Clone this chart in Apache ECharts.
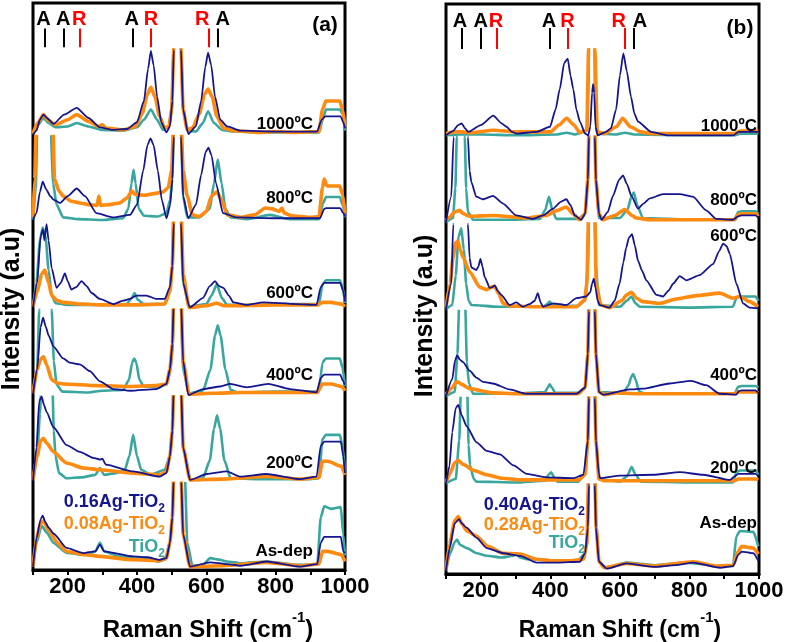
<!DOCTYPE html>
<html><head><meta charset="utf-8">
<script src="https://cdn.jsdelivr.net/npm/echarts@6/dist/echarts.min.js"></script>
<style>html,body{margin:0;padding:0;background:#fff}#c{width:787px;height:642px}</style>
</head><body><div id="c"></div>
<script>
// ---------- DATA ----------
const xTicks = [200, 400, 600, 800, 1000];
const temps = ['1000ºC', '800ºC', '600ºC', '400ºC', '200ºC', 'As-dep'];
const peakTypes = ['A', 'A', 'R', 'A', 'R', 'R', 'A'];
const aPeakX = [133, 190, 236, 389, 440, 606, 633];
const aPeakLabelX = [130, 187, 233, 385, 440, 588, 647];
const bPeakX = [145, 201, 246, 397, 449, 615, 640];
const bPeakLabelX = [140, 200, 244, 396, 449, 597, 658];
const aLegend = ['0.16Ag-TiO', '0.08Ag-TiO', 'TiO'];
const bLegend = ['0.40Ag-TiO', '0.28Ag-TiO', 'TiO'];

// Panel (a)
const aT1000 = [[100,0.01],[115,0.12],[130,0.2],[145,0.14],[165,0.09],[200,0.1],[226,0.14],[260,0.1],[300,0.06],[360,0.05],[400,0.09],[420,0.18],[440,0.3],[458,0.18],[475,0.06],[492,0.1],[500,0.3],[506,1.0],[512,4],[520,4],[527,1.0],[533,0.3],[545,0.05],[570,0.04],[590,0.14],[605,0.28],[622,0.14],[645,0.06],[680,0.04],[750,0.03],[850,0.03],[925,0.03],[937,0.2],[945,0.3],[985,0.3],[993,0.25],[1000,0.05]];
const aO1000 = [[100,0.02],[115,0.15],[130,0.24],[145,0.17],[165,0.12],[200,0.18],[226,0.24],[260,0.16],[290,0.1],[300,0.12],[310,0.08],[360,0.06],[395,0.1],[415,0.25],[430,0.48],[440,0.56],[452,0.45],[465,0.22],[480,0.08],[492,0.1],[500,0.3],[506,1.0],[512,4],[520,4],[527,1.0],[533,0.3],[545,0.06],[560,0.08],[580,0.25],[595,0.48],[605,0.54],[617,0.45],[630,0.22],[650,0.08],[680,0.05],[750,0.03],[800,0.04],[850,0.03],[925,0.04],[935,0.3],[945,0.4],[985,0.4],[993,0.3],[1000,0.1]];
const aB1000 = [[100,0.0],[110,0.05],[120,0.18],[130,0.24],[140,0.2],[159,0.13],[190,0.24],[226,0.32],[260,0.2],[293,0.09],[330,0.06],[371,0.07],[400,0.15],[420,0.4],[432,0.78],[440,0.99],[448,0.82],[458,0.45],[470,0.15],[485,0.03],[495,0.1],[502,0.4],[506,1.0],[512,4],[520,4],[527,1.0],[533,0.3],[548,0.01],[570,0.1],[585,0.4],[597,0.8],[605,0.97],[614,0.82],[625,0.45],[640,0.18],[660,0.1],[700,0.05],[800,0.04],[919,0.04],[933,0.18],[943,0.22],[987,0.22],[995,0.15],[1000,0.08]];

const aT800 = [[100,0.02],[108,0.4],[113,1.2],[120,3],[145,3],[150,1.2],[158,0.45],[168,0.2],[187,0.05],[230,0.03],[300,0.02],[360,0.04],[375,0.15],[384,0.45],[390,0.61],[396,0.45],[405,0.15],[420,0.07],[460,0.06],[485,0.1],[495,0.25],[502,0.5],[506,1.0],[512,4],[520,4],[527,1.0],[533,0.3],[545,0.05],[580,0.05],[610,0.15],[622,0.45],[633,0.73],[644,0.45],[655,0.15],[670,0.05],[720,0.03],[783,0.08],[840,0.03],[925,0.03],[937,0.22],[945,0.29],[985,0.29],[993,0.2],[1000,0.05]];
const aO800 = [[100,0.05],[105,0.5],[110,1.3],[130,3],[150,3],[157,1.2],[162,0.5],[175,0.36],[187,0.3],[210,0.24],[235,0.22],[260,0.2],[285,0.19],[290,0.3],[295,0.19],[320,0.2],[350,0.22],[372,0.28],[385,0.36],[395,0.32],[420,0.31],[450,0.33],[475,0.35],[490,0.4],[500,0.6],[506,1.2],[512,4],[520,4],[527,1.2],[533,0.6],[545,0.3],[560,0.08],[580,0.06],[600,0.12],[615,0.3],[630,0.35],[645,0.25],[660,0.08],[700,0.05],[740,0.08],[770,0.16],[790,0.15],[810,0.12],[818,0.16],[825,0.1],[845,0.07],[900,0.05],[925,0.06],[935,0.4],[940,0.5],[948,0.42],[985,0.42],[993,0.32],[1000,0.1]];
const aB800 = [[100,0.02],[110,0.1],[120,0.35],[128,0.47],[138,0.38],[150,0.3],[159,0.26],[178,0.22],[200,0.3],[226,0.39],[250,0.3],[283,0.1],[332,0.05],[380,0.08],[400,0.2],[418,0.6],[430,0.9],[439,0.98],[448,0.9],[460,0.6],[472,0.25],[485,0.04],[496,0.2],[502,0.5],[506,1.0],[512,4],[520,4],[527,1.0],[533,0.3],[548,0.04],[570,0.2],[585,0.55],[598,0.82],[606,0.87],[615,0.78],[628,0.45],[648,0.1],[687,0.05],[800,0.04],[928,0.04],[940,0.15],[945,0.16],[986,0.16],[995,0.1],[1000,0.06]];

const aT600 = [[100,0.02],[110,0.3],[120,0.8],[128,0.95],[136,0.85],[145,0.45],[154,0.15],[165,0.06],[200,0.04],[300,0.04],[370,0.05],[385,0.12],[393,0.18],[402,0.1],[420,0.05],[480,0.05],[495,0.2],[502,0.5],[506,1.0],[512,4],[520,4],[527,1.0],[533,0.3],[550,0.02],[600,0.05],[615,0.15],[630,0.28],[645,0.12],[660,0.04],[750,0.04],[850,0.05],[925,0.05],[935,0.28],[945,0.33],[985,0.33],[993,0.25],[1000,0.06]];
const aO600 = [[100,0.02],[112,0.2],[125,0.4],[134,0.45],[145,0.3],[154,0.15],[170,0.09],[187,0.07],[240,0.05],[300,0.04],[400,0.04],[480,0.05],[495,0.2],[502,0.5],[506,1.2],[512,4],[520,4],[527,1.2],[533,0.4],[550,0.01],[600,0.03],[630,0.06],[650,0.03],[800,0.04],[920,0.04],[935,0.07],[960,0.07],[990,0.05],[1000,0.02]];
const aB600 = [[100,0.01],[112,0.3],[122,0.85],[129,0.93],[133,0.8],[139,0.99],[145,0.8],[154,0.47],[168,0.24],[180,0.3],[192,0.41],[200,0.32],[211,0.22],[225,0.25],[240,0.32],[255,0.26],[269,0.18],[293,0.11],[332,0.05],[360,0.09],[379,0.11],[398,0.15],[427,0.15],[456,0.11],[480,0.11],[495,0.25],[502,0.5],[506,1.0],[512,4],[520,4],[527,1.0],[533,0.3],[552,0.01],[590,0.12],[610,0.26],[625,0.32],[637,0.26],[649,0.24],[665,0.15],[678,0.07],[716,0.04],[764,0.07],[860,0.05],[918,0.04],[930,0.25],[940,0.3],[986,0.3],[995,0.2],[1000,0.08]];

const aT400 = [[100,0.02],[112,0.3],[118,1.0],[125,2],[148,2],[154,1.0],[160,0.4],[168,0.12],[185,0.04],[260,0.03],[300,0.05],[360,0.06],[377,0.18],[386,0.38],[392,0.43],[398,0.38],[407,0.18],[420,0.1],[460,0.09],[485,0.12],[495,0.25],[502,0.5],[506,1.0],[512,4],[520,4],[527,1.0],[533,0.3],[550,0.02],[590,0.05],[612,0.3],[625,0.7],[633,0.82],[641,0.7],[655,0.3],[670,0.06],[690,0.03],[800,0.04],[925,0.04],[935,0.38],[945,0.43],[985,0.43],[993,0.32],[1000,0.1]];
const aO400 = [[100,0.02],[112,0.3],[122,0.42],[130,0.45],[140,0.35],[154,0.18],[170,0.14],[187,0.13],[283,0.11],[380,0.1],[456,0.11],[485,0.13],[495,0.3],[502,0.6],[506,1.2],[512,4],[520,4],[527,1.2],[533,0.4],[550,0.01],[620,0.02],[700,0.03],[800,0.03],[920,0.03],[935,0.13],[960,0.13],[990,0.1],[1000,0.05]];
const aB400 = [[100,0.01],[112,0.3],[122,0.8],[129,0.91],[137,0.8],[145,0.7],[159,0.57],[187,0.43],[206,0.38],[235,0.36],[264,0.28],[293,0.16],[332,0.07],[380,0.05],[456,0.07],[485,0.13],[495,0.3],[502,0.6],[506,1.1],[512,4],[520,4],[527,1.1],[533,0.4],[548,0.0],[591,0.07],[640,0.1],[669,0.13],[716,0.09],[779,0.13],[841,0.07],[918,0.03],[930,0.2],[940,0.24],[986,0.24],[995,0.16],[1000,0.12]];

const aT200 = [[100,0.02],[112,0.3],[120,0.8],[126,1.3],[155,1.3],[160,0.6],[165,0.3],[175,0.1],[197,0.04],[240,0.05],[280,0.08],[293,0.16],[305,0.08],[340,0.1],[365,0.14],[378,0.3],[389,0.55],[400,0.3],[412,0.14],[440,0.08],[480,0.14],[495,0.3],[502,0.6],[506,1.1],[512,4],[520,4],[527,1.1],[533,0.4],[555,0.02],[590,0.04],[610,0.25],[622,0.62],[631,0.78],[640,0.62],[652,0.25],[670,0.04],[750,0.03],[900,0.03],[925,0.04],[935,0.5],[945,0.55],[985,0.55],[993,0.42],[1000,0.12]];
const aO200 = [[100,0.02],[112,0.3],[122,0.48],[130,0.51],[140,0.45],[159,0.35],[197,0.22],[245,0.16],[293,0.14],[389,0.1],[466,0.08],[485,0.12],[495,0.3],[502,0.6],[506,1.2],[512,4],[520,4],[527,1.2],[533,0.4],[553,0.02],[650,0.03],[774,0.06],[870,0.03],[925,0.05],[935,0.24],[950,0.24],[990,0.18],[1000,0.08]];
const aB200 = [[100,0.01],[110,0.4],[118,0.95],[125,1.0],[132,0.9],[139,0.82],[159,0.64],[197,0.43],[235,0.35],[274,0.28],[293,0.26],[300,0.27],[310,0.2],[389,0.12],[466,0.06],[485,0.1],[495,0.3],[502,0.6],[506,1.1],[512,4],[520,4],[527,1.1],[533,0.4],[553,0.02],[601,0.09],[659,0.12],[697,0.06],[774,0.09],[870,0.03],[918,0.06],[930,0.42],[940,0.47],[988,0.47],[995,0.3],[1000,0.1]];

const aTAs = [[100,0.02],[110,0.3],[125,0.5],[140,0.42],[159,0.3],[197,0.18],[250,0.16],[280,0.2],[293,0.3],[305,0.2],[350,0.14],[430,0.12],[460,0.08],[480,0.1],[495,0.3],[502,0.6],[506,1.1],[512,4],[520,4],[532,4],[538,1.1],[545,0.3],[560,0.03],[590,0.04],[611,0.12],[640,0.1],[659,0.08],[700,0.06],[774,0.08],[870,0.04],[920,0.05],[930,0.6],[940,0.73],[960,0.7],[988,0.72],[995,0.4],[1000,0.15]];
const aOAs = [[100,0.02],[110,0.35],[122,0.53],[130,0.56],[145,0.45],[170,0.3],[197,0.2],[250,0.16],[293,0.14],[389,0.1],[466,0.09],[485,0.12],[495,0.3],[502,0.6],[506,1.1],[512,4],[520,4],[527,1.1],[533,0.4],[553,0.02],[650,0.03],[774,0.07],[870,0.03],[925,0.05],[935,0.2],[950,0.2],[990,0.16],[1000,0.08]];
const aBAs = [[100,0.02],[110,0.35],[122,0.58],[128,0.62],[136,0.54],[145,0.48],[159,0.41],[197,0.24],[245,0.18],[280,0.2],[293,0.28],[305,0.2],[389,0.14],[430,0.13],[466,0.1],[485,0.12],[495,0.3],[502,0.6],[506,1.1],[512,4],[520,4],[527,1.1],[533,0.4],[553,0.02],[611,0.07],[659,0.05],[700,0.03],[774,0.08],[870,0.02],[920,0.05],[930,0.3],[940,0.37],[988,0.37],[995,0.2],[1000,0.18]];

// Panel (b)
const bT1000 = [[100,0.0],[140,0.01],[200,0.01],[300,0.0],[420,0.01],[447,0.03],[470,0.01],[505,0.05],[510,0.6],[513,4],[525,4],[528,0.6],[535,0.02],[590,0.01],[615,0.03],[640,0.01],[800,0.0],[930,0.0],[945,0.02],[998,0.02]];
const bO1000 = [[100,0.02],[125,0.04],[145,0.04],[170,0.03],[236,0.06],[300,0.04],[400,0.04],[425,0.12],[447,0.2],[468,0.12],[485,0.03],[505,0.06],[510,1.0],[513,4],[525,4],[528,1.0],[535,0.04],[555,0.02],[590,0.1],[608,0.2],[630,0.1],[660,0.04],[690,0.02],[800,0.02],[930,0.02],[945,0.05],[998,0.05]];
const bB1000 = [[100,0.0],[120,0.05],[135,0.12],[145,0.14],[155,0.08],[164,0.04],[200,0.12],[236,0.23],[260,0.14],[274,0.1],[290,0.04],[303,0.02],[360,0.04],[399,0.1],[415,0.3],[427,0.54],[440,0.85],[450,0.9],[458,0.7],[466,0.54],[475,0.3],[485,0.16],[500,0.02],[509,0.0],[515,0.1],[520,0.5],[523,0.6],[526,0.5],[530,0.1],[536,0.0],[560,0.04],[574,0.08],[589,0.3],[600,0.7],[610,0.96],[620,0.75],[632,0.45],[642,0.25],[652,0.16],[690,0.04],[738,0.0],[926,0.0],[941,0.04],[998,0.04]];

const bT800 = [[100,0.0],[120,0.05],[127,0.4],[131,1.0],[135,2],[150,2],[154,1.0],[158,0.4],[163,0.12],[178,0.03],[300,0.03],[370,0.04],[385,0.14],[396,0.3],[406,0.14],[417,0.04],[480,0.04],[500,0.1],[508,0.5],[511,1.0],[514,4],[525,4],[528,1.0],[531,0.5],[540,0.05],[600,0.05],[622,0.15],[633,0.3],[640,0.35],[650,0.2],[666,0.05],[800,0.03],[930,0.03],[940,0.12],[950,0.13],[990,0.13],[998,0.1]];
const bO800 = [[100,0.02],[110,0.06],[125,0.12],[139,0.14],[150,0.1],[168,0.07],[235,0.08],[331,0.05],[388,0.08],[420,0.14],[446,0.18],[465,0.1],[484,0.03],[500,0.1],[508,0.5],[511,1.1],[514,4],[525,4],[528,1.1],[531,0.5],[540,0.1],[551,0.03],[585,0.08],[614,0.15],[635,0.08],[647,0.05],[686,0.03],[800,0.03],[930,0.03],[940,0.09],[950,0.1],[990,0.1],[998,0.07]];
const bB800 = [[100,0.0],[115,0.3],[122,1.0],[128,3],[158,3],[163,1.0],[168,0.6],[173,0.47],[187,0.3],[206,0.27],[235,0.31],[264,0.22],[302,0.08],[350,0.04],[379,0.08],[408,0.16],[430,0.24],[446,0.27],[458,0.2],[470,0.08],[489,0.03],[500,0.1],[508,0.5],[511,1.0],[514,4],[525,4],[528,1.0],[531,0.5],[540,0.1],[547,0.03],[565,0.12],[580,0.31],[598,0.5],[609,0.55],[620,0.45],[633,0.31],[652,0.16],[668,0.22],[686,0.28],[724,0.33],[772,0.33],[810,0.3],[848,0.14],[877,0.04],[925,0.03],[940,0.07],[950,0.08],[990,0.08],[998,0.05]];

const bT600 = [[100,0.0],[118,0.05],[128,0.4],[136,0.85],[144,0.95],[151,0.7],[158,0.3],[165,0.1],[173,0.05],[250,0.03],[380,0.03],[390,0.06],[398,0.09],[406,0.05],[480,0.04],[500,0.1],[508,0.5],[511,1.0],[514,4],[525,4],[528,1.0],[531,0.5],[540,0.05],[600,0.03],[620,0.1],[633,0.15],[645,0.07],[657,0.03],[800,0.02],[925,0.03],[935,0.13],[945,0.15],[990,0.15],[998,0.1]];
const bO600 = [[100,0.02],[112,0.3],[120,0.6],[128,0.78],[134,0.8],[141,0.7],[149,0.61],[168,0.44],[197,0.26],[216,0.23],[230,0.26],[240,0.27],[252,0.18],[264,0.07],[283,0.04],[350,0.03],[475,0.03],[499,0.11],[505,0.3],[510,1.1],[514,4],[525,4],[528,1.1],[532,0.3],[545,0.05],[570,0.02],[605,0.1],[620,0.17],[633,0.2],[648,0.13],[666,0.09],[714,0.07],[762,0.12],[820,0.16],[887,0.19],[925,0.13],[944,0.15],[973,0.09],[997,0.03]];
const bB600 = [[100,0.0],[115,0.3],[121,1.0],[125,3],[158,3],[163,1.0],[168,0.6],[173,0.49],[187,0.46],[193,0.5],[199,0.59],[205,0.5],[211,0.38],[226,0.25],[233,0.26],[240,0.28],[248,0.22],[259,0.17],[283,0.05],[302,0.08],[321,0.03],[340,0.06],[355,0.1],[364,0.19],[372,0.08],[379,0.03],[408,0.07],[446,0.05],[475,0.13],[503,0.15],[515,0.2],[520,0.3],[525,0.36],[530,0.25],[536,0.1],[542,0.05],[570,0.02],[585,0.1],[599,0.3],[610,0.55],[618,0.72],[626,0.84],[635,0.88],[643,0.75],[652,0.57],[664,0.45],[676,0.34],[705,0.17],[724,0.15],[740,0.22],[753,0.3],[772,0.39],[791,0.34],[829,0.4],[868,0.53],[885,0.68],[897,0.77],[907,0.74],[916,0.65],[935,0.3],[954,0.07],[973,0.02],[998,0.01]];

const bT400 = [[100,0.0],[125,0.05],[133,0.5],[138,1.1],[142,2],[151,2],[155,1.1],[160,0.4],[166,0.15],[178,0.03],[300,0.03],[385,0.05],[392,0.1],[398,0.14],[405,0.1],[414,0.04],[480,0.04],[500,0.1],[508,0.5],[511,1.0],[514,4],[525,4],[528,1.0],[531,0.5],[540,0.05],[610,0.04],[625,0.13],[633,0.23],[638,0.26],[645,0.2],[655,0.06],[670,0.03],[800,0.03],[930,0.03],[940,0.11],[950,0.12],[990,0.12],[998,0.1]];
const bO400 = [[100,0.02],[118,0.1],[128,0.16],[134,0.17],[145,0.14],[168,0.09],[235,0.04],[300,0.03],[480,0.03],[500,0.1],[508,0.5],[511,1.1],[514,4],[525,4],[528,1.1],[531,0.5],[540,0.05],[555,0.02],[590,0.04],[650,0.03],[800,0.03],[930,0.03],[940,0.05],[990,0.05],[998,0.04]];
const bB400 = [[100,0.0],[118,0.2],[126,0.42],[132,0.48],[140,0.43],[149,0.4],[168,0.3],[187,0.22],[206,0.17],[235,0.15],[283,0.08],[331,0.03],[475,0.03],[500,0.1],[508,0.5],[511,1.0],[514,4],[525,4],[528,1.0],[531,0.5],[540,0.05],[551,0.02],[628,0.08],[666,0.09],[743,0.15],[805,0.18],[848,0.13],[887,0.03],[935,0.02],[942,0.06],[950,0.07],[990,0.07],[998,0.04]];

const bT200 = [[100,0.0],[128,0.05],[138,0.5],[143,1.1],[147,2],[157,2],[161,1.1],[165,0.45],[169,0.21],[180,0.05],[188,0.02],[300,0.01],[385,0.03],[395,0.1],[402,0.13],[410,0.08],[420,0.02],[480,0.02],[500,0.1],[508,0.5],[511,1.0],[514,4],[525,4],[528,1.0],[531,0.5],[540,0.05],[600,0.02],[620,0.08],[634,0.19],[645,0.1],[660,0.02],[800,0.01],[925,0.01],[935,0.13],[945,0.15],[990,0.15],[998,0.1]];
const bO200 = [[100,0.01],[112,0.12],[125,0.24],[135,0.27],[150,0.22],[180,0.15],[217,0.1],[260,0.06],[313,0.04],[480,0.04],[500,0.1],[508,0.5],[511,1.1],[514,4],[525,4],[528,1.1],[531,0.5],[540,0.05],[555,0.03],[800,0.03],[930,0.03],[940,0.05],[990,0.05],[998,0.04]];
const bB200 = [[100,0.0],[110,0.2],[118,0.6],[128,0.88],[135,0.92],[145,0.8],[159,0.67],[188,0.48],[217,0.38],[255,0.34],[294,0.21],[332,0.11],[389,0.07],[466,0.06],[495,0.1],[508,0.5],[511,1.0],[514,4],[525,4],[528,1.0],[531,0.5],[540,0.1],[543,0.06],[600,0.09],[696,0.1],[773,0.13],[840,0.1],[917,0.04],[930,0.08],[940,0.11],[990,0.11],[998,0.08]];

const bTAs = [[100,0.0],[112,0.2],[125,0.33],[132,0.36],[140,0.3],[160,0.26],[188,0.2],[217,0.17],[260,0.15],[293,0.17],[303,0.2],[312,0.15],[332,0.13],[437,0.11],[480,0.12],[500,0.2],[508,0.5],[511,1.0],[514,4],[525,4],[528,1.0],[531,0.5],[540,0.1],[560,0.03],[619,0.09],[700,0.06],[792,0.09],[880,0.05],[925,0.05],[935,0.4],[945,0.46],[984,0.45],[998,0.28]];
const bOAs = [[100,0.0],[110,0.3],[125,0.58],[135,0.63],[145,0.55],[160,0.46],[188,0.4],[220,0.28],[265,0.2],[313,0.19],[360,0.13],[409,0.11],[460,0.11],[495,0.13],[505,0.3],[510,1.1],[514,4],[525,4],[528,1.1],[532,0.5],[540,0.1],[555,0.03],[619,0.08],[700,0.05],[811,0.1],[880,0.05],[926,0.06],[940,0.22],[950,0.28],[984,0.26],[998,0.19]];
const bBAs = [[100,0.0],[110,0.25],[125,0.55],[138,0.6],[145,0.55],[159,0.5],[188,0.38],[217,0.26],[265,0.2],[313,0.17],[361,0.09],[420,0.09],[485,0.1],[500,0.2],[508,0.5],[511,1.0],[514,4],[525,4],[528,1.0],[531,0.5],[540,0.1],[562,0.02],[619,0.08],[696,0.04],[760,0.06],[811,0.09],[888,0.03],[926,0.05],[940,0.18],[950,0.22],[984,0.2],[998,0.11]];

// ---------- LAYOUT / STYLE ----------
const FONT = '"Liberation Sans", Arial, sans-serif';
const COL = { teal: '#3aa79f', orange: '#ff8a10', blue: '#15158f' };
const LW = { teal: 2.6, orange: 3.6, blue: 1.8 };

const panels = [
  {
    left: 33, top: 3, width: 312, height: 567, bandTop: 50, bandH: 86.67,
    bands: [[aT1000, aO1000, aB1000], [aT800, aO800, aB800], [aT600, aO600, aB600],
            [aT400, aO400, aB400], [aT200, aO200, aB200], [aTAs, aOAs, aBAs]],
    peakX: aPeakX, peakLabelX: aPeakLabelX, lineY: [0.06, 0.46], letterY: 0.64,
    tag: '(a)', tagX: 325, tagY: 25,
    tempRight: 313, tempY: [124, 198, 293, 375, 463, 551],
    legend: aLegend, legRight: 165, legY: [502, 524, 547],
    yTitleX: 12, yTitleY: 309, xTitleX: 208, xTitleY: 626, xTitleSize: 24
  },
  {
    left: 446, top: 4, width: 313, height: 570, bandTop: 50, bandH: 87,
    bands: [[bT1000, bO1000, bB1000], [bT800, bO800, bB800], [bT600, bO600, bB600],
            [bT400, bO400, bB400], [bT200, bO200, bB200], [bTAs, bOAs, bBAs]],
    peakX: bPeakX, peakLabelX: bPeakLabelX, lineY: [0.02, 0.48], letterY: 0.61,
    tag: '(b)', tagX: 740, tagY: 28,
    tempRight: 757, tempY: [126, 200, 236, 375, 468, 523],
    legend: bLegend, legRight: 585, legY: [505, 525, 543],
    yTitleX: 425, yTitleY: 316, xTitleX: 620, xTitleY: 626, xTitleSize: 23
  }
];

const option = { animation: false, grid: [], xAxis: [], yAxis: [], series: [], graphic: [] };
function addGrid(rect, xOpt, yOpt) {
  const idx = option.grid.length;
  option.grid.push(Object.assign({ containLabel: false, outerBoundsMode: 'none' }, rect));
  option.xAxis.push(Object.assign({ gridIndex: idx, type: 'value', min: 100, max: 1000, show: false }, xOpt || {}));
  option.yAxis.push(Object.assign({ gridIndex: idx, type: 'value', min: 0, max: 1, show: false }, yOpt || {}));
  return idx;
}
const traceKeys = ['teal', 'orange', 'blue'];

panels.forEach(p => {
  addGrid({ left: p.left, top: p.top, width: p.width, height: p.height, show: true,
            borderColor: '#000', borderWidth: 3, backgroundColor: 'transparent', z: 0 },
    { show: true, interval: 100, splitLine: { show: false },
      axisLine: { show: true, lineStyle: { color: '#000', width: 3 } },
      axisTick: { show: true, inside: false, length: 5, lineStyle: { color: '#000', width: 2 } },
      axisLabel: { margin: 6, color: '#000', fontSize: 22, fontWeight: 'bold', fontFamily: FONT,
                   formatter: v => (xTicks.indexOf(v) >= 0 ? String(v) : '') } });
  p.bands.forEach((trs, i) => {
    const gi = addGrid({ left: p.left, top: p.bandTop + i * p.bandH, width: p.width, height: p.bandH },
                       null, { min: -0.02, max: 1 });
    trs.forEach((d, j) => {
      const k = traceKeys[j];
      option.series.push({ type: 'line', xAxisIndex: gi, yAxisIndex: gi, data: d, clip: true,
        symbol: 'none', showSymbol: false, smooth: 0.2, smoothMonotone: 'x', silent: true, z: 2 + j,
        lineStyle: { color: COL[k], width: LW[k] } });
    });
  });
  const ai = addGrid({ left: p.left, top: p.top, width: p.width, height: p.bandTop - p.top });
  option.series.push({ type: 'lines', coordinateSystem: 'cartesian2d', xAxisIndex: ai, yAxisIndex: ai, silent: true,
    data: p.peakX.map((x, k) => ({ coords: [[x, p.lineY[0]], [x, p.lineY[1]]],
      lineStyle: { color: peakTypes[k] === 'R' ? '#ff0000' : '#000', width: 2, opacity: 1, curveness: 0 } })) });
  option.series.push({ type: 'scatter', xAxisIndex: ai, yAxisIndex: ai, silent: true, symbolSize: 1,
    itemStyle: { color: 'rgba(0,0,0,0)' },
    label: { show: true, position: 'inside', formatter: '{b}', fontSize: 20, fontWeight: 'bold', fontFamily: FONT,
             color: '#000000', textBorderWidth: 0, opacity: 1 },
    data: p.peakLabelX.map((x, k) => ({ name: peakTypes[k], value: [x, p.letterY],
      label: { color: peakTypes[k] === 'R' ? '#ff0000' : '#000000' } })) });

  option.graphic.push({ type: 'text', x: p.tagX, y: p.tagY, style: { text: p.tag, fill: '#000',
    font: 'bold 21px ' + FONT, align: 'center', verticalAlign: 'middle' }, z: 100 });
  temps.forEach((t, i) => option.graphic.push({ type: 'text', x: p.tempRight, y: p.tempY[i],
    style: { text: t, fill: '#000', font: 'bold 17px ' + FONT, align: 'right', verticalAlign: 'middle' }, z: 100 }));
  const legCols = [COL.blue, COL.orange, COL.teal];
  p.legend.forEach((t, i) => option.graphic.push({ type: 'text', x: p.legRight, y: p.legY[i], z: 100,
    style: { text: '{m|' + t + '}{s|2}', align: 'right', verticalAlign: 'middle', fill: legCols[i],
      rich: { m: { fill: legCols[i], fontSize: 18, fontWeight: 'bold', fontFamily: FONT, lineHeight: 26, verticalAlign: 'middle' },
              s: { fill: legCols[i], fontSize: 12, fontWeight: 'bold', fontFamily: FONT, lineHeight: 12, verticalAlign: 'bottom' } } } }));
  option.graphic.push({ type: 'text', x: p.yTitleX, y: p.yTitleY, rotation: Math.PI / 2, z: 100,
    style: { text: 'Intensity (a.u)', fill: '#000', font: 'bold 25px ' + FONT, align: 'center', verticalAlign: 'middle' } });
  option.graphic.push({ type: 'text', x: p.xTitleX, y: p.xTitleY, z: 100,
    style: { text: '{m|Raman Shift (cm}{s|-1}{m|)}', align: 'center', verticalAlign: 'middle', fill: '#000',
      rich: { m: { fill: '#000', fontSize: p.xTitleSize, fontWeight: 'bold', fontFamily: FONT, lineHeight: 32, verticalAlign: 'bottom' },
              s: { fill: '#000', fontSize: 15, fontWeight: 'bold', fontFamily: FONT, lineHeight: 15, verticalAlign: 'top' } } } });
});

const chart = echarts.init(document.getElementById('c'), null, { renderer: 'canvas' });
chart.setOption(option);
</script></body></html>
